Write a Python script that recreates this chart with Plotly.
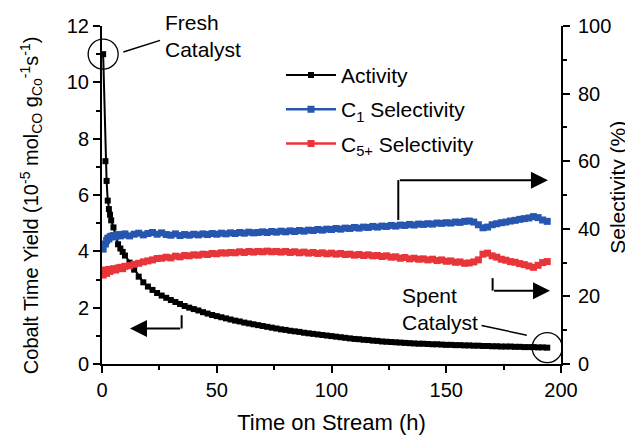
import plotly.graph_objects as go

# Time on stream (h)
T = [0.5, 1.5, 2, 2.5, 3, 3.5, 4, 5, 6, 7, 8, 9, 10,
     12, 14, 16, 18, 20, 22, 24, 26, 28, 30, 32, 34, 36, 38, 40,
     42, 44, 46, 48, 50, 52, 54, 56, 58, 60, 62, 64, 66, 68, 70,
     72, 74, 76, 78, 80, 82, 84, 86, 88, 90, 92, 94, 96, 98, 100,
     102, 104, 106, 108, 110, 112, 114, 116, 118, 120, 122, 124, 126, 128, 130,
     132, 134, 136, 138, 140, 142, 144, 146, 148, 150, 152, 154, 156, 158, 160,
     162, 164, 166, 168, 170, 172, 174, 176, 178, 180, 182, 184, 186, 188, 190,
     192, 194]

# Cobalt time yield (10^-5 mol_CO g_Co^-1 s^-1)
ACTIVITY = [11.0, 7.2, 6.5, 5.8, 5.5, 5.3, 5.1, 4.85, 4.55, 4.25, 4.1, 3.98, 3.85,
            3.6, 3.35, 3.1, 2.9, 2.75, 2.63, 2.52, 2.43, 2.35, 2.27, 2.2, 2.13, 2.06, 2.0, 1.95,
            1.9, 1.84, 1.79, 1.74, 1.7, 1.66, 1.62, 1.58, 1.54, 1.51, 1.47, 1.44, 1.41, 1.38, 1.35,
            1.32, 1.29, 1.26, 1.23, 1.21, 1.18, 1.16, 1.14, 1.11, 1.09, 1.07, 1.05, 1.03, 1.01, 0.99,
            0.97, 0.95, 0.93, 0.91, 0.89, 0.88, 0.86, 0.85, 0.83, 0.82, 0.8, 0.79, 0.78, 0.77, 0.76,
            0.75, 0.74, 0.73, 0.72, 0.72, 0.71, 0.7, 0.7, 0.69, 0.68, 0.68, 0.67, 0.67, 0.66, 0.66,
            0.65, 0.65, 0.64, 0.64, 0.63, 0.63, 0.62, 0.62, 0.62, 0.61, 0.61, 0.6, 0.6, 0.6, 0.59,
            0.59, 0.58]

# C1 selectivity (%)
C1 = [34.0, 35.5, 36.5, 37.2, 37.0, 37.6, 37.8, 38.0, 37.6, 38.3, 37.9, 38.2, 38.5,
      37.9, 38.4, 38.7, 38.2, 38.6, 38.9, 38.4, 38.8, 38.3, 38.1, 38.5, 38.0, 38.3, 38.1, 38.4,
      38.2, 38.5, 38.3, 38.6, 38.4, 38.7, 38.5, 38.8, 38.6, 38.9, 38.7, 39.0, 38.8, 38.9, 39.1,
      38.9, 39.2, 39.0, 39.3, 39.1, 39.4, 39.2, 39.5, 39.3, 39.6, 39.5, 39.8, 39.6, 39.9, 39.8,
      40.1, 39.9, 40.2, 40.1, 40.4, 40.2, 40.5, 40.4, 40.7, 40.5, 40.8, 40.7, 41.0, 40.8, 41.1,
      41.0, 41.3, 41.1, 41.4, 41.3, 41.5, 41.4, 41.7, 41.6, 41.8, 41.7, 42.0, 41.9, 42.2, 42.3,
      42.0, 41.2, 40.3, 40.5, 41.2, 41.5, 41.8, 42.0, 42.3, 42.5, 42.8, 43.0, 43.2, 43.6, 43.3,
      42.6, 42.2]

# C5+ selectivity (%)
C5 = [26.3, 27.8, 26.8, 27.5, 28.0, 27.4, 27.9, 28.2, 27.8, 28.4, 28.6, 28.2, 28.9,
      29.1, 29.5, 29.8, 30.2, 30.5, 30.8, 31.2, 31.3, 31.6, 31.4, 31.9, 31.7, 32.1, 32.0, 32.3,
      32.2, 32.5, 32.4, 32.7, 32.6, 32.9, 32.8, 33.0, 32.9, 33.2, 33.0, 33.3, 33.1, 33.3, 33.2,
      33.4, 33.2, 33.3, 33.1, 33.3, 33.0, 33.2, 32.9, 33.1, 32.8, 33.0, 32.7, 32.9, 32.6, 32.8,
      32.5, 32.7, 32.4, 32.5, 32.2, 32.4, 32.1, 32.3, 32.0, 32.1, 31.8, 32.0, 31.6, 31.7, 31.3,
      31.5, 31.1, 31.3, 31.0, 31.1, 30.8, 31.0, 30.6, 30.8, 30.4, 30.5, 30.1, 30.2, 29.8, 29.9,
      30.2, 30.8, 32.5, 32.8, 32.0, 31.6, 31.0, 30.7, 30.3, 30.1, 29.7, 29.4, 29.0, 28.6, 29.2,
      30.0, 30.3]

FONT = "Arial, Liberation Sans, sans-serif"
BLUE = "#2656b0"
RED = "#e8353a"

fig = go.Figure()

fig.add_trace(go.Scatter(x=T, y=C1, yaxis="y2", mode="lines+markers",
                         name="C<sub>1</sub> Selectivity", legendrank=2, legendgroup="b",
                         line=dict(color=BLUE, width=2.5),
                         marker=dict(symbol="square", size=7, color=BLUE)))
fig.add_trace(go.Scatter(x=T, y=C5, yaxis="y2", mode="lines+markers",
                         name="C<sub>5+</sub> Selectivity", legendrank=3, legendgroup="c",
                         line=dict(color=RED, width=2.5),
                         marker=dict(symbol="square", size=7, color=RED)))
fig.add_trace(go.Scatter(x=T, y=ACTIVITY, mode="lines+markers",
                         name="Activity", legendrank=1, legendgroup="a",
                         line=dict(color="black", width=2),
                         marker=dict(symbol="square", size=6, color="black")))
# circles around fresh and spent catalyst points
fig.add_trace(go.Scatter(x=[T[0], T[-1]], y=[ACTIVITY[0], ACTIVITY[-1]],
                         mode="markers", showlegend=False, cliponaxis=False,
                         marker=dict(symbol="circle-open", size=30,
                                     color="black", line=dict(width=1.3))))

axis_common = dict(showline=True, linewidth=2, linecolor="black",
                   ticks="outside", ticklen=7, tickwidth=2, tickcolor="black",
                   showgrid=False, zeroline=False, automargin=False,
                   tickfont=dict(family=FONT, size=20, color="black"))

# the page body adds an 8px offset, so the figure is sized to fit the window
fig.update_layout(
    width=625, height=428,
    margin=dict(l=94, r=72, t=18, b=72),
    paper_bgcolor="white", plot_bgcolor="white",
    font=dict(family=FONT, color="black"),
    showlegend=True,
    legend=dict(x=0.39, y=0.915, xanchor="left", yanchor="top",
                bgcolor="rgba(0,0,0,0)", font=dict(family=FONT, size=21),
                itemwidth=50, tracegroupgap=4),
    xaxis=dict(range=[0, 200], dtick=50, tick0=0,
               minor=dict(dtick=25, ticklen=4, tickwidth=2, tickcolor="black", ticks="outside"),
               title=dict(text="Time on Stream (h)", font=dict(size=22), standoff=15),
               **axis_common),
    yaxis=dict(range=[0, 12], dtick=2, tick0=0,
               minor=dict(dtick=1, ticklen=4, tickwidth=2, tickcolor="black", ticks="outside"),
               **axis_common),
    yaxis2=dict(range=[0, 100], dtick=20, tick0=0, overlaying="y", side="right",
                minor=dict(dtick=10, ticklen=4, tickwidth=2, tickcolor="black", ticks="outside"),
                ticklabelstandoff=4,
                **axis_common),
)

# axis titles (placed as rotated text)
fig.add_annotation(x=-0.1547, y=0.47, xref="paper", yref="paper", textangle=-90,
                   text="Cobalt Time Yield (10<sup>-5</sup> mol<sub>CO</sub> g<sub>Co</sub><sup>-1</sup>s<sup>-1</sup>)",
                   showarrow=False, xanchor="center", yanchor="middle",
                   font=dict(family=FONT, size=20, color="black"))
fig.add_annotation(x=1.124, y=0.524, xref="paper", yref="paper", textangle=-90,
                   text="Selectivity (%)",
                   showarrow=False, xanchor="center", yanchor="middle",
                   font=dict(family=FONT, size=21, color="black"))

# text labels
fig.add_annotation(x=26.6, y=11.63, xref="x", yref="y", text="Fresh<br>Catalyst",
                   showarrow=False, xanchor="left", yanchor="middle", align="left",
                   font=dict(family=FONT, size=21, color="black"))
fig.add_annotation(x=129.7, y=1.94, xref="x", yref="y", text="Spent<br>Catalyst",
                   showarrow=False, xanchor="left", yanchor="middle", align="left",
                   font=dict(family=FONT, size=21, color="black"))

# leader lines
fig.add_shape(type="line", xref="x", yref="y", x0=9.3, y0=11.08, x1=25.3, y1=11.49,
              line=dict(color="black", width=1.5))
fig.add_shape(type="line", xref="x", yref="y", x0=165.4, y0=1.37, x1=185.1, y1=1.02,
              line=dict(color="black", width=1.5))

# axis-indicator arrows (vertical stubs + arrows)
fig.add_shape(type="line", xref="x", yref="y", x0=34.7, y0=1.73, x1=34.7, y1=1.26,
              line=dict(color="black", width=2))
fig.add_annotation(x=12.2, y=1.26, ax=34.7, ay=1.26, xref="x", yref="y",
                   axref="x", ayref="y", showarrow=True, arrowhead=2,
                   arrowsize=1.7, arrowwidth=2, arrowcolor="black", text="")
fig.add_shape(type="line", xref="x", yref="y2", x0=129.1, y0=54.4, x1=129.1, y1=42.6,
              line=dict(color="black", width=2))
fig.add_annotation(x=194.3, y=54.4, ax=129.1, ay=54.4, xref="x", yref="y2",
                   axref="x", ayref="y2", showarrow=True, arrowhead=2,
                   arrowsize=1.7, arrowwidth=2, arrowcolor="black", text="")
fig.add_shape(type="line", xref="x", yref="y2", x0=170.2, y0=25.4, x1=170.2, y1=21.7,
              line=dict(color="black", width=2))
fig.add_annotation(x=195.2, y=21.7, ax=170.2, ay=21.7, xref="x", yref="y2",
                   axref="x", ayref="y2", showarrow=True, arrowhead=2,
                   arrowsize=1.7, arrowwidth=2, arrowcolor="black", text="")

fig.write_html("out.html")
